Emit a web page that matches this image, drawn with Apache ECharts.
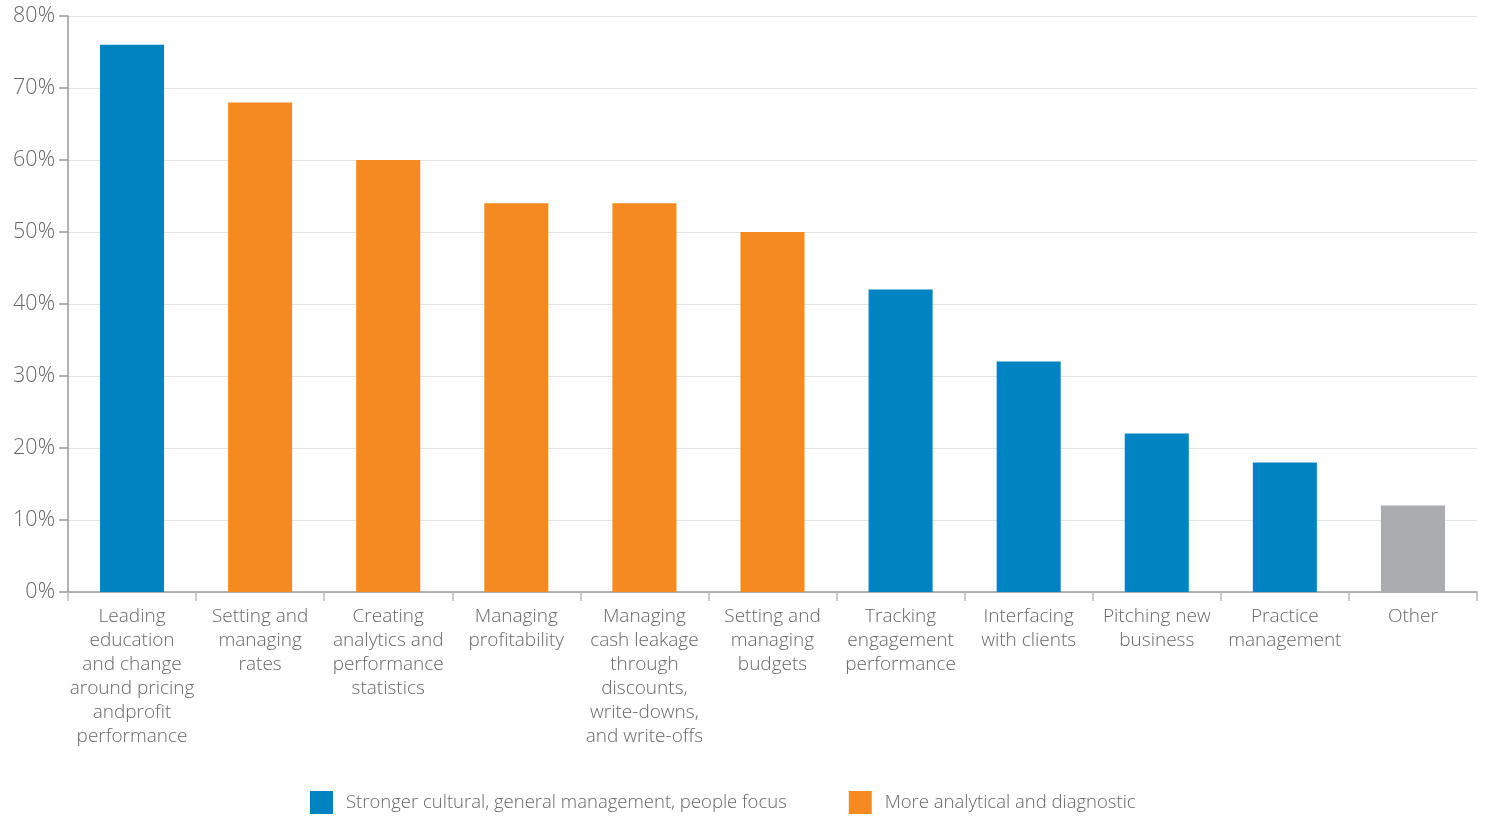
<!DOCTYPE html>
<html>
<head>
<meta charset="utf-8">
<script src="https://cdn.jsdelivr.net/npm/echarts@6/dist/echarts.min.js"></script>
<style>
  html, body { margin: 0; padding: 0; background: #fff; }
  #chart { width: 1485px; height: 816px; }
</style>
</head>
<body>
<div id="chart"></div>
<script>
// Responsibilities of the pricing function (% of respondents)
const categories = [
  'Leading\neducation\nand change\naround pricing\nandprofit\nperformance',
  'Setting and\nmanaging\nrates',
  'Creating\nanalytics and\nperformance\nstatistics',
  'Managing\nprofitability',
  'Managing\ncash leakage\nthrough\ndiscounts,\nwrite-downs,\nand write-offs',
  'Setting and\nmanaging\nbudgets',
  'Tracking\nengagement\nperformance',
  'Interfacing\nwith clients',
  'Pitching new\nbusiness',
  'Practice\nmanagement',
  'Other'
];
const values = [76, 68, 60, 54, 54, 50, 42, 32, 22, 18, 12];
// Focus group of each category: 'people', 'analytical' or 'other'
const groups = ['people', 'analytical', 'analytical', 'analytical', 'analytical', 'analytical',
                'people', 'people', 'people', 'people', 'other'];
const yTicks = [0, 10, 20, 30, 40, 50, 60, 70, 80];

const seriesNames = {
  people: 'Stronger cultural, general management, people focus',
  analytical: 'More analytical and diagnostic',
  other: 'Other'
};
const colors = { people: '#0083C1', analytical: '#F58A20', other: '#ABACAF' };

const font = "'Open Sans', 'Noto Sans', sans-serif";
const textColor = '#666769';

const series = ['people', 'analytical', 'other'].map(g => ({
  name: seriesNames[g],
  type: 'bar',
  stack: 'all',
  barWidth: '50%',
  itemStyle: { color: colors[g] },
  data: values.map((v, i) => (groups[i] === g ? v : '-'))
}));

const chart = echarts.init(document.getElementById('chart'), null, { renderer: 'canvas' });
chart.setOption({
  animation: false,
  textStyle: { fontFamily: font },
  grid: { left: 68, right: 8, top: 16, bottom: 224, containLabel: false },
  legend: {
    data: [seriesNames.people, seriesNames.analytical],
    left: 305,
    top: 786,
    itemWidth: 23,
    itemHeight: 23,
    itemGap: 62,
    icon: 'rect',
    textStyle: { fontSize: 18.5, color: textColor, fontWeight: 300, fontFamily: font, padding: [0, 0, 0, 8] }
  },
  xAxis: {
    type: 'category',
    data: categories,
    boundaryGap: true,
    axisLine: { lineStyle: { color: '#9a9a9a', width: 1.5 } },
    axisTick: { show: true, alignWithLabel: false, length: 9, lineStyle: { color: '#bbbbbb', width: 1.5 } },
    axisLabel: {
      interval: 0,
      margin: 13,
      fontSize: 19,
      lineHeight: 24,
      color: textColor,
      fontWeight: 300,
      fontFamily: font,
      align: 'center'
    }
  },
  yAxis: {
    type: 'value',
    min: yTicks[0],
    max: yTicks[yTicks.length - 1],
    interval: 10,
    axisLine: { show: true, lineStyle: { color: '#9a9a9a', width: 1.5 } },
    axisTick: { show: true, length: 9, lineStyle: { color: '#9a9a9a', width: 1.5 } },
    splitLine: { show: true, lineStyle: { color: '#e3e3e3', width: 1 } },
    axisLabel: {
      margin: 13,
      fontSize: 21.5,
      color: textColor,
      fontWeight: 300,
      fontFamily: font,
      formatter: v => v + '%'
    }
  },
  series: series
});
</script>
</body>
</html>
